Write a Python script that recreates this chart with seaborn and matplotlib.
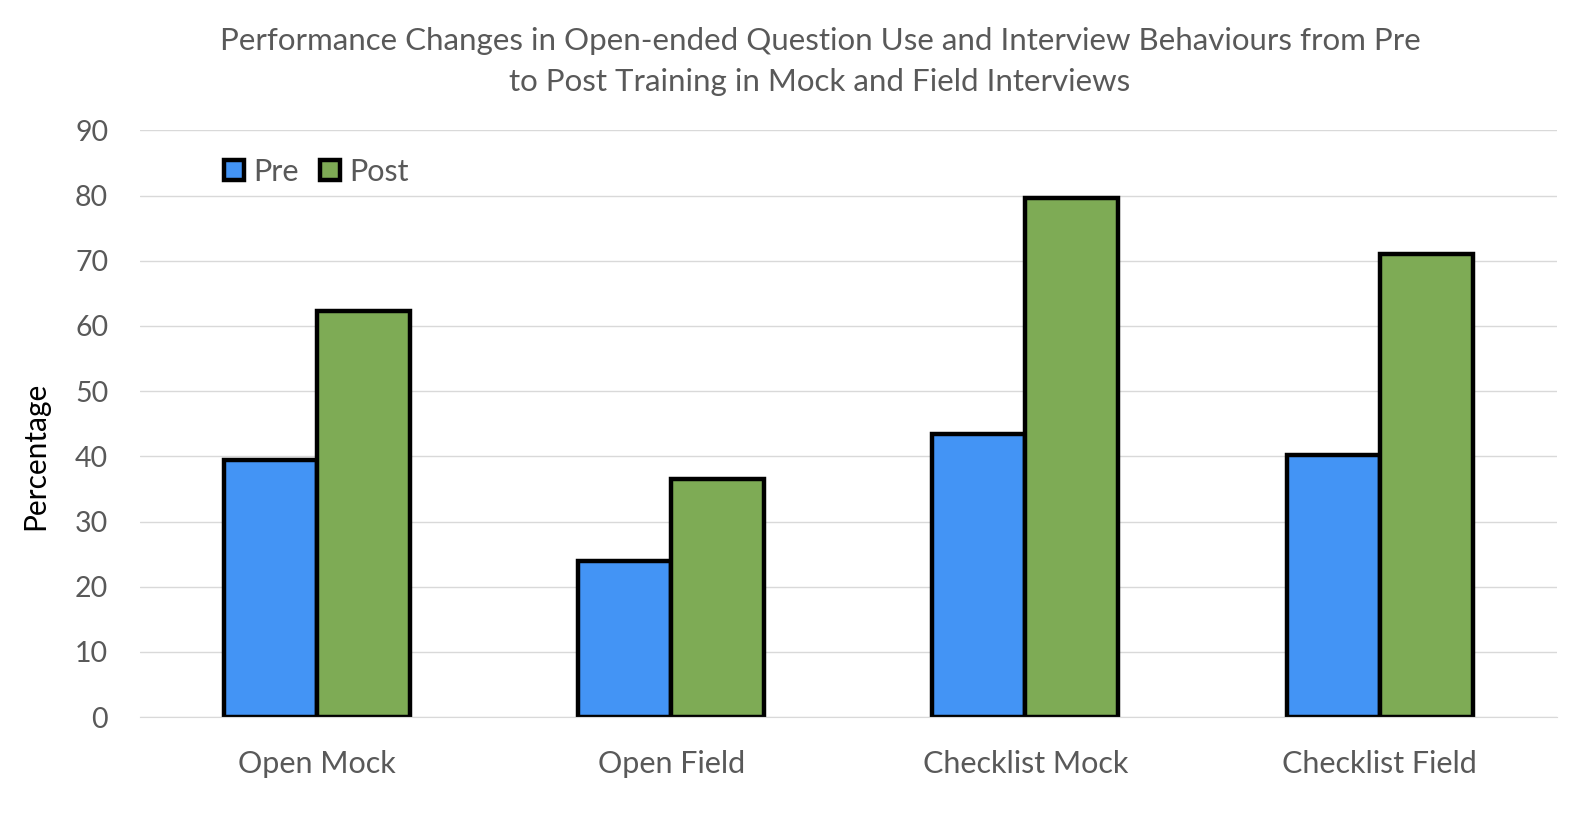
import pandas as pd
import matplotlib.pyplot as plt
import seaborn as sns

# datos
categorias = ["Open Mock", "Open Field", "Checklist Mock", "Checklist Field"]
pre = [39.4, 23.9, 43.4, 40.2]
post = [62.3, 36.5, 79.6, 71.0]
grupos = ["Pre", "Post"]
colores = ["#4394F5", "#7EAB55"]

df = pd.DataFrame({
    "Categoria": categorias * 2,
    "Grupo": ["Pre"] * 4 + ["Post"] * 4,
    "Valor": pre + post,
})

sns.set_style("white")
plt.rcParams["font.family"] = ["Lato", "DejaVu Sans"]

fig, ax = plt.subplots(figsize=(15.74, 8.30), dpi=100)
sns.barplot(data=df, x="Categoria", y="Valor", hue="Grupo", hue_order=grupos,
            order=categorias, palette=colores, width=0.525, gap=0,
            edgecolor="black", linewidth=3.2, saturation=1, ax=ax)

ax.set_ylim(0, 90)
ax.set_xlim(-0.5, 3.5)
ax.set_yticks(range(0, 91, 10))
ax.yaxis.grid(True, color="#D9D9D9", linewidth=1)
ax.set_axisbelow(True)
for s in ["top", "right", "left"]:
    ax.spines[s].set_visible(False)
ax.spines["bottom"].set_color("#D9D9D9")
ax.tick_params(axis="y", length=0, labelsize=20.5, labelcolor="#595959", pad=23)
ax.tick_params(axis="x", length=0, labelsize=22, labelcolor="#595959", pad=24)
ax.set_xlabel("")
ax.set_ylabel("Percentage", fontsize=21.5, color="black")
ax.yaxis.set_label_coords(-0.064, 0.445)

ax.set_title("Performance Changes in Open-ended Question Use and Interview Behaviours from Pre\n"
             "to Post Training in Mock and Field Interviews",
             fontsize=22.5, color="#595959", pad=28, linespacing=1.6, x=0.48)

leg = ax.legend(loc="upper left", bbox_to_anchor=(0.04, 1.0), ncol=2, frameon=False,
                fontsize=22, handlelength=0.65, handleheight=0.65, handletextpad=0.3,
                columnspacing=0.7)
for t in leg.get_texts():
    t.set_color("#595959")

plt.subplots_adjust(left=0.089, right=0.989, top=0.843, bottom=0.136)
plt.savefig("out.png", dpi=100)
